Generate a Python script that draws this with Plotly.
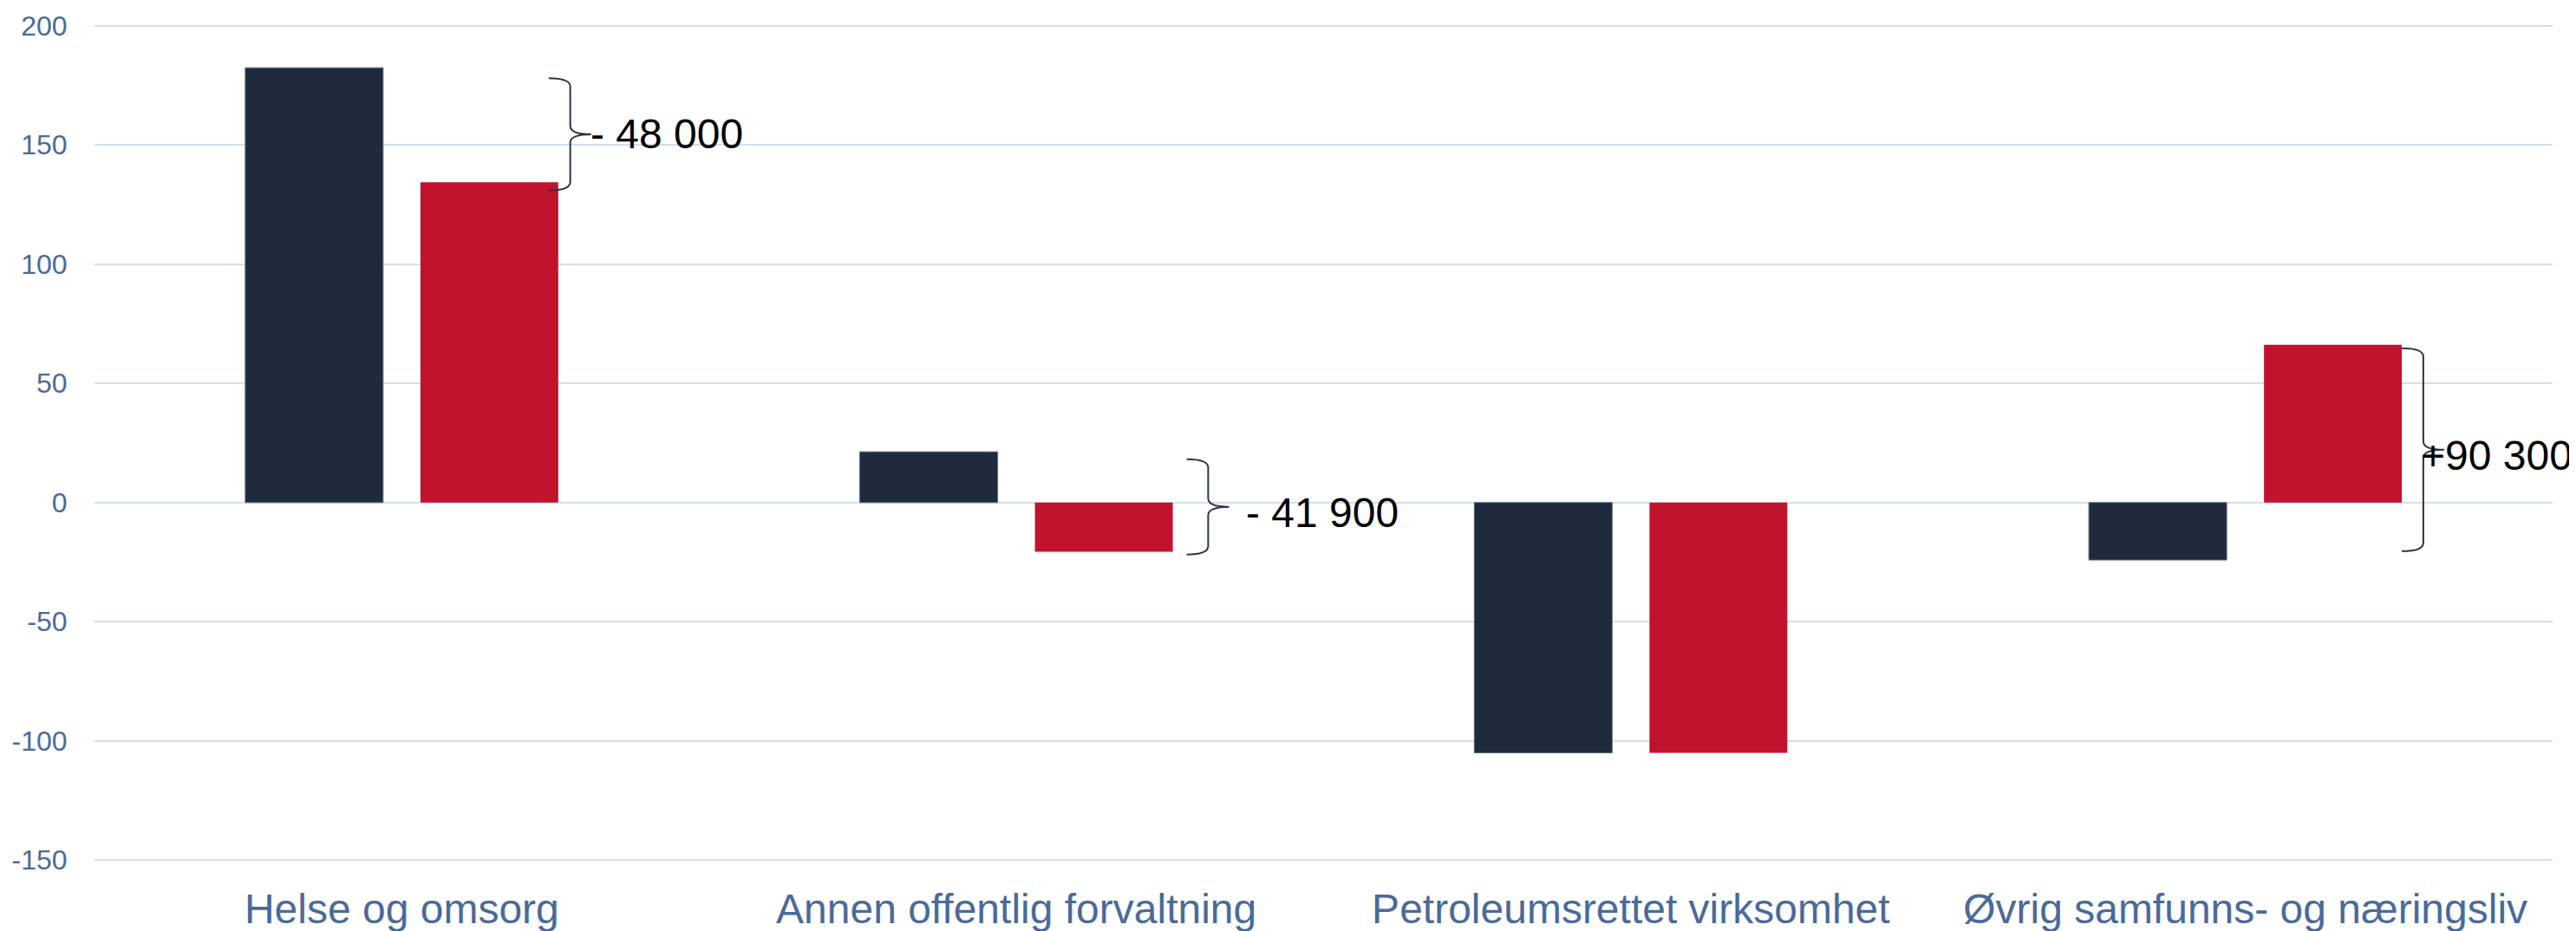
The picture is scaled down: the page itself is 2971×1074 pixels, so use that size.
import plotly.graph_objects as go

categories = ["Helse og omsorg", "Annen offentlig forvaltning",
              "Petroleumsrettet virksomhet", "Øvrig samfunns- og næringsliv"]
series_a = [182.4, 21.3, -105.0, -24.1]   # dark bars
series_b = [134.4, -20.6, -105.0, 66.2]   # red bars
change_labels = ["- 48 000", "- 41 900", None, "+90 300"]
y_ticks = [200, 150, 100, 50, 0, -50, -100, -150]

# styling for the braces (offsets in category units / value units)
brace_start_off = [-0.0155, 0.0226, None, 0.0]
brace_top_inset = [4.4, 3.1, None, 1.5]
brace_bot_inset = [-3.4, -1.2, None, 3.7]
text_dx = [-0.004, 0.025, None, -0.041]
text_dy = [0.0, -2.5, None, -2.5]

DARK = "#1f2b3d"
RED = "#c1132d"
AXIS_COL = "#4a6a9a"
GRID = "#d6deeb"
FONT = "Liberation Sans, Arial"

x = list(range(len(categories)))

fig = go.Figure()
fig.add_trace(go.Bar(x=x, y=series_a, marker=dict(color=DARK, line=dict(color="#5b6577", width=1)),
                     showlegend=False))
fig.add_trace(go.Bar(x=x, y=series_b, marker=dict(color=RED, line=dict(width=0)),
                     showlegend=False))

BARGAP = 0.43
GROUPGAP = 0.213
slot = (1 - BARGAP) / 2
bar_w = slot * (1 - GROUPGAP)
red_right_rel = slot / 2 + bar_w / 2

shapes = []
annotations = []
for i, lab in enumerate(change_labels):
    if lab is None:
        continue
    a, b = series_a[i], series_b[i]
    ytop = max(a, b) - brace_top_inset[i]
    ybot = min(a, b) + brace_bot_inset[i]
    ymid = (ytop + ybot) / 2
    x0 = i + red_right_rel + brace_start_off[i]
    xv = x0 + 0.035
    xt = xv + 0.034
    r = 3.5
    path = (f"M {x0},{ytop} Q {xv},{ytop} {xv},{ytop - r} "
            f"L {xv},{ymid + r} Q {xv},{ymid} {xt},{ymid} "
            f"Q {xv},{ymid} {xv},{ymid - r} "
            f"L {xv},{ybot + r} Q {xv},{ybot} {x0},{ybot}")
    shapes.append(dict(type="path", path=path, xref="x", yref="y",
                       line=dict(color="#2b3547", width=2)))
    annotations.append(dict(x=xt + text_dx[i], y=ymid + text_dy[i], xref="x", yref="y",
                            text=lab, showarrow=False, xanchor="left", yanchor="middle",
                            font=dict(family=FONT, size=48, color="#000000")))

# the page body has an 8px default margin, so the figure is sized to fit the window
fig.update_layout(
    width=2963, height=1066,
    margin=dict(l=101, r=27, t=19, b=79, autoexpand=False),
    plot_bgcolor="white", paper_bgcolor="white",
    barmode="group", bargap=BARGAP, bargroupgap=GROUPGAP,
    shapes=shapes, annotations=annotations,
    xaxis=dict(tickmode="array", tickvals=x, ticktext=categories, range=[-0.5, 3.5],
               showgrid=False, zeroline=False, showline=False, ticks="", automargin=False,
               tickfont=dict(family=FONT, size=48, color=AXIS_COL),
               ticklabelstandoff=21),
    yaxis=dict(range=[-151, 201], tickmode="array", tickvals=y_ticks,
               ticktext=[str(v) for v in y_ticks], automargin=False,
               showgrid=True, gridcolor=GRID, gridwidth=2, zeroline=False, showline=False,
               ticks="outside", ticklen=24, tickcolor="rgba(0,0,0,0)",
               tickfont=dict(family=FONT, size=32, color=AXIS_COL)),
)

fig.write_html("out.html")
